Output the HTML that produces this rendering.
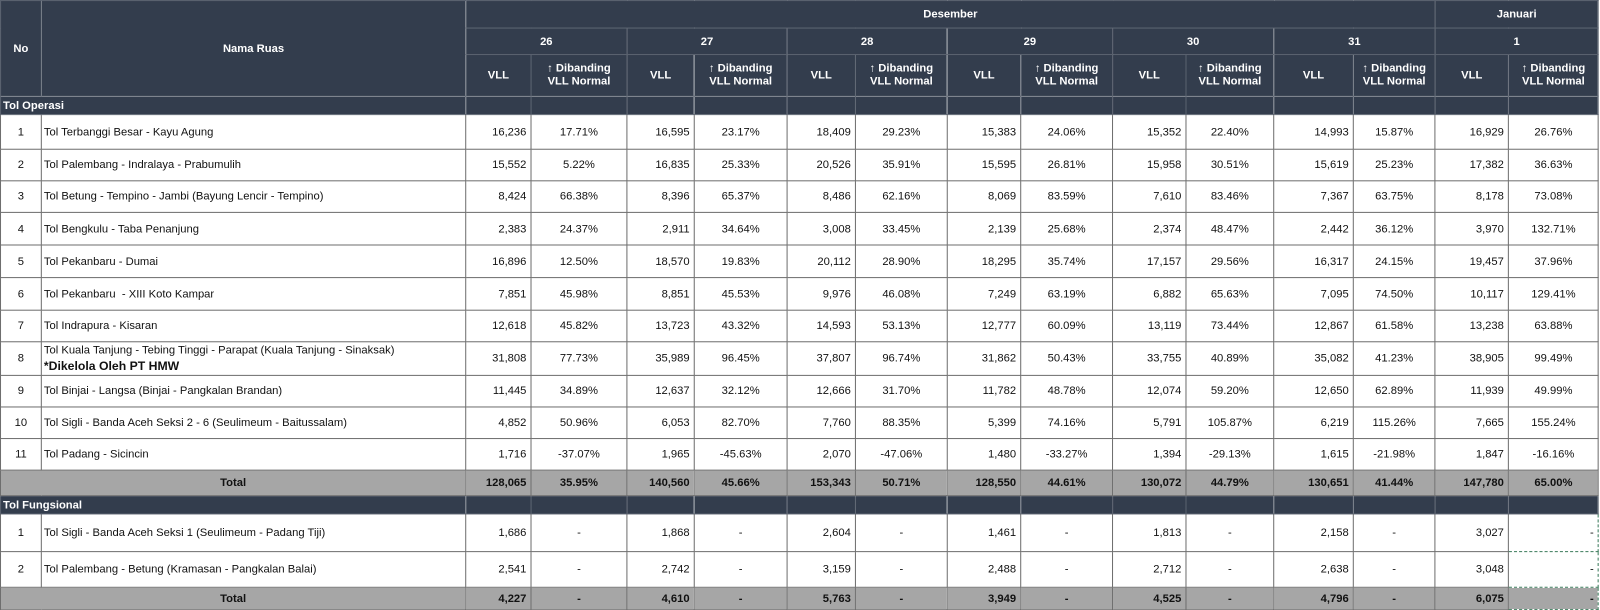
<!DOCTYPE html>
<html><head><meta charset="utf-8"><style>
body{margin:0;background:#fff;width:1600px;height:610px;overflow:hidden;font-family:"Liberation Sans",sans-serif;}
table{border-collapse:collapse;table-layout:fixed;width:1566px;font-size:11px;transform:scale(1.0202,1.0187);transform-origin:0 0;}
td{padding:0 4px;border:1px solid #6e6e6e;white-space:nowrap;overflow:hidden;color:#111;}
.h td{background:#333d4d;color:#fff;font-weight:bold;text-align:center;border-color:#59616e;}
.h td.l{text-align:left;padding-left:2px;}
tr.d td{text-align:center;}
tr.d td.n{text-align:right;}
tr.d td.nm{text-align:left;padding-left:2px;}
tr.t td{background:#a6a6a6;font-weight:bold;text-align:center;}
tr.t td.n{text-align:right;}
.sub{line-height:13px;}
</style></head><body>
<table>
<colgroup><col style="width:40px"><col style="width:416px"><col style="width:64px"><col style="width:94px"><col style="width:66px"><col style="width:91px"><col style="width:67px"><col style="width:90px"><col style="width:72px"><col style="width:90px"><col style="width:72px"><col style="width:86px"><col style="width:78px"><col style="width:80px"><col style="width:72px"><col style="width:88px"></colgroup>
<tr class="h" style="height:27px"><td rowspan="3">No</td><td rowspan="3">Nama Ruas</td><td colspan="12">Desember</td><td colspan="2">Januari</td></tr>
<tr class="h" style="height:26px"><td colspan="2">26</td><td colspan="2">27</td><td colspan="2">28</td><td colspan="2">29</td><td colspan="2">30</td><td colspan="2">31</td><td colspan="2">1</td></tr>
<tr class="h sub" style="height:41px"><td>VLL</td><td>↑ Dibanding<br>VLL Normal</td><td>VLL</td><td>↑ Dibanding<br>VLL Normal</td><td>VLL</td><td>↑ Dibanding<br>VLL Normal</td><td>VLL</td><td>↑ Dibanding<br>VLL Normal</td><td>VLL</td><td>↑ Dibanding<br>VLL Normal</td><td>VLL</td><td>↑ Dibanding<br>VLL Normal</td><td>VLL</td><td>↑ Dibanding<br>VLL Normal</td></tr>
<tr class="h" style="height:18px"><td colspan="2" class="l">Tol Operasi</td><td></td><td></td><td></td><td></td><td></td><td></td><td></td><td></td><td></td><td></td><td></td><td></td><td></td><td></td></tr>
<tr class="d" style="height:34px"><td>1</td><td class="nm">Tol Terbanggi Besar - Kayu Agung</td><td class="n">16,236</td><td>17.71%</td><td class="n">16,595</td><td>23.17%</td><td class="n">18,409</td><td>29.23%</td><td class="n">15,383</td><td>24.06%</td><td class="n">15,352</td><td>22.40%</td><td class="n">14,993</td><td>15.87%</td><td class="n">16,929</td><td>26.76%</td></tr>
<tr class="d" style="height:31px"><td>2</td><td class="nm">Tol Palembang - Indralaya - Prabumulih</td><td class="n">15,552</td><td>5.22%</td><td class="n">16,835</td><td>25.33%</td><td class="n">20,526</td><td>35.91%</td><td class="n">15,595</td><td>26.81%</td><td class="n">15,958</td><td>30.51%</td><td class="n">15,619</td><td>25.23%</td><td class="n">17,382</td><td>36.63%</td></tr>
<tr class="d" style="height:31px"><td>3</td><td class="nm">Tol Betung - Tempino - Jambi (Bayung Lencir - Tempino)</td><td class="n">8,424</td><td>66.38%</td><td class="n">8,396</td><td>65.37%</td><td class="n">8,486</td><td>62.16%</td><td class="n">8,069</td><td>83.59%</td><td class="n">7,610</td><td>83.46%</td><td class="n">7,367</td><td>63.75%</td><td class="n">8,178</td><td>73.08%</td></tr>
<tr class="d" style="height:32px"><td>4</td><td class="nm">Tol Bengkulu - Taba Penanjung</td><td class="n">2,383</td><td>24.37%</td><td class="n">2,911</td><td>34.64%</td><td class="n">3,008</td><td>33.45%</td><td class="n">2,139</td><td>25.68%</td><td class="n">2,374</td><td>48.47%</td><td class="n">2,442</td><td>36.12%</td><td class="n">3,970</td><td>132.71%</td></tr>
<tr class="d" style="height:32px"><td>5</td><td class="nm">Tol Pekanbaru - Dumai</td><td class="n">16,896</td><td>12.50%</td><td class="n">18,570</td><td>19.83%</td><td class="n">20,112</td><td>28.90%</td><td class="n">18,295</td><td>35.74%</td><td class="n">17,157</td><td>29.56%</td><td class="n">16,317</td><td>24.15%</td><td class="n">19,457</td><td>37.96%</td></tr>
<tr class="d" style="height:32px"><td>6</td><td class="nm">Tol Pekanbaru &nbsp;- XIII Koto Kampar</td><td class="n">7,851</td><td>45.98%</td><td class="n">8,851</td><td>45.53%</td><td class="n">9,976</td><td>46.08%</td><td class="n">7,249</td><td>63.19%</td><td class="n">6,882</td><td>65.63%</td><td class="n">7,095</td><td>74.50%</td><td class="n">10,117</td><td>129.41%</td></tr>
<tr class="d" style="height:31px"><td>7</td><td class="nm">Tol Indrapura - Kisaran</td><td class="n">12,618</td><td>45.82%</td><td class="n">13,723</td><td>43.32%</td><td class="n">14,593</td><td>53.13%</td><td class="n">12,777</td><td>60.09%</td><td class="n">13,119</td><td>73.44%</td><td class="n">12,867</td><td>61.58%</td><td class="n">13,238</td><td>63.88%</td></tr>
<tr class="d" style="height:33px"><td>8</td><td class="nm" style="line-height:15px">Tol Kuala Tanjung - Tebing Tinggi - Parapat (Kuala Tanjung - Sinaksak)<br><b style="font-size:12px">*Dikelola Oleh PT HMW</b></td><td class="n">31,808</td><td>77.73%</td><td class="n">35,989</td><td>96.45%</td><td class="n">37,807</td><td>96.74%</td><td class="n">31,862</td><td>50.43%</td><td class="n">33,755</td><td>40.89%</td><td class="n">35,082</td><td>41.23%</td><td class="n">38,905</td><td>99.49%</td></tr>
<tr class="d" style="height:31px"><td>9</td><td class="nm">Tol Binjai - Langsa (Binjai - Pangkalan Brandan)</td><td class="n">11,445</td><td>34.89%</td><td class="n">12,637</td><td>32.12%</td><td class="n">12,666</td><td>31.70%</td><td class="n">11,782</td><td>48.78%</td><td class="n">12,074</td><td>59.20%</td><td class="n">12,650</td><td>62.89%</td><td class="n">11,939</td><td>49.99%</td></tr>
<tr class="d" style="height:31px"><td>10</td><td class="nm">Tol Sigli - Banda Aceh Seksi 2 - 6 (Seulimeum - Baitussalam)</td><td class="n">4,852</td><td>50.96%</td><td class="n">6,053</td><td>82.70%</td><td class="n">7,760</td><td>88.35%</td><td class="n">5,399</td><td>74.16%</td><td class="n">5,791</td><td>105.87%</td><td class="n">6,219</td><td>115.26%</td><td class="n">7,665</td><td>155.24%</td></tr>
<tr class="d" style="height:31px"><td>11</td><td class="nm">Tol Padang - Sicincin</td><td class="n">1,716</td><td>-37.07%</td><td class="n">1,965</td><td>-45.63%</td><td class="n">2,070</td><td>-47.06%</td><td class="n">1,480</td><td>-33.27%</td><td class="n">1,394</td><td>-29.13%</td><td class="n">1,615</td><td>-21.98%</td><td class="n">1,847</td><td>-16.16%</td></tr>
<tr class="t" style="height:25px"><td colspan="2">Total</td><td class="n">128,065</td><td>35.95%</td><td class="n">140,560</td><td>45.66%</td><td class="n">153,343</td><td>50.71%</td><td class="n">128,550</td><td>44.61%</td><td class="n">130,072</td><td>44.79%</td><td class="n">130,651</td><td>41.44%</td><td class="n">147,780</td><td>65.00%</td></tr>
<tr class="h" style="height:18px"><td colspan="2" class="l">Tol Fungsional</td><td></td><td></td><td></td><td></td><td></td><td></td><td></td><td></td><td></td><td></td><td></td><td></td><td></td><td></td></tr>
<tr class="d" style="height:37px"><td>1</td><td class="nm">Tol Sigli - Banda Aceh Seksi 1 (Seulimeum - Padang Tiji)</td><td class="n">1,686</td><td>-</td><td class="n">1,868</td><td>-</td><td class="n">2,604</td><td>-</td><td class="n">1,461</td><td>-</td><td class="n">1,813</td><td>-</td><td class="n">2,158</td><td>-</td><td class="n">3,027</td><td class="n" style="border:1px dashed #3a7a5a">-</td></tr>
<tr class="d" style="height:35px"><td>2</td><td class="nm">Tol Palembang - Betung (Kramasan - Pangkalan Balai)</td><td class="n">2,541</td><td>-</td><td class="n">2,742</td><td>-</td><td class="n">3,159</td><td>-</td><td class="n">2,488</td><td>-</td><td class="n">2,712</td><td>-</td><td class="n">2,638</td><td>-</td><td class="n">3,048</td><td class="n" style="border:1px dashed #3a7a5a">-</td></tr>
<tr class="t" style="height:22px"><td colspan="2">Total</td><td class="n">4,227</td><td>-</td><td class="n">4,610</td><td>-</td><td class="n">5,763</td><td>-</td><td class="n">3,949</td><td>-</td><td class="n">4,525</td><td>-</td><td class="n">4,796</td><td>-</td><td class="n">6,075</td><td class="n" style="border:1px dashed #3a7a5a">-</td></tr>
</table>
</body></html>
